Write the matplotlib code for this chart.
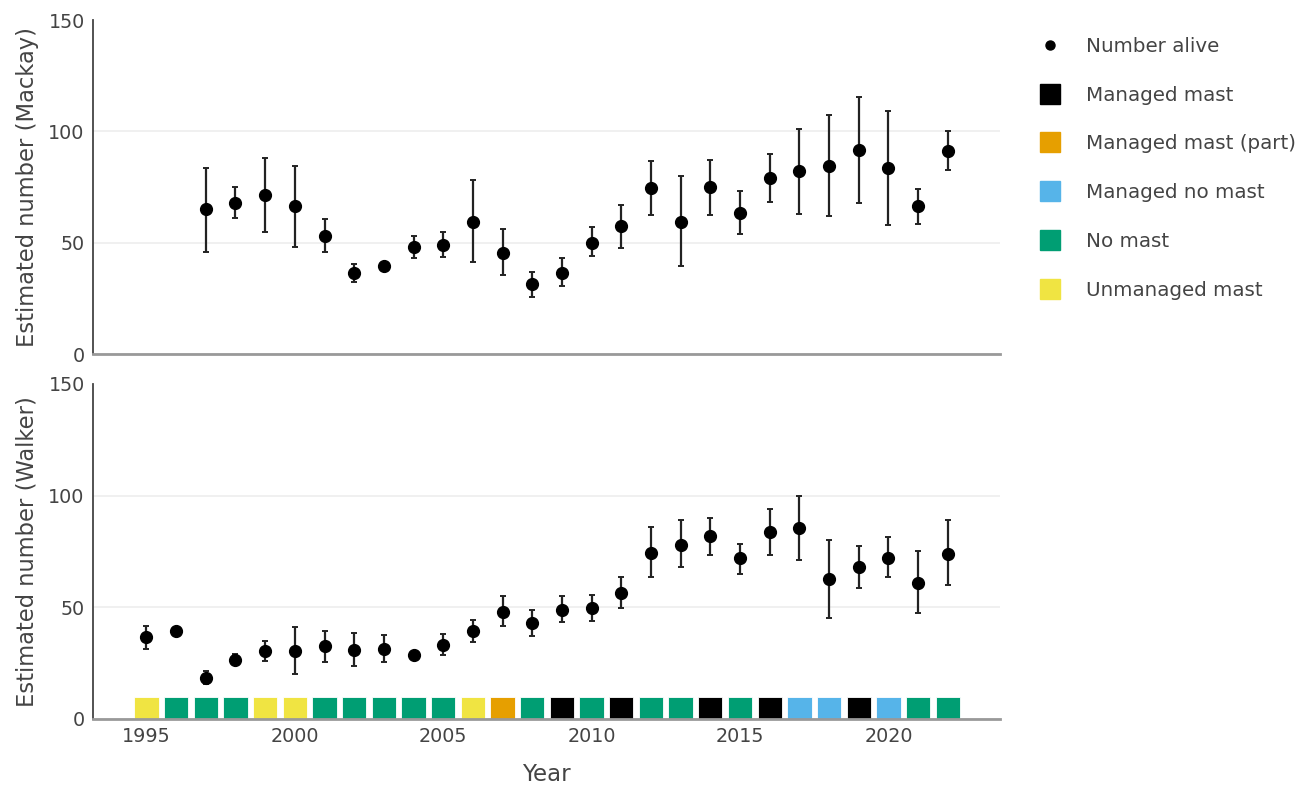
"""Estimated number alive per year at two sites, with mast category strip."""

import matplotlib

matplotlib.use("Agg")
import matplotlib.pyplot as plt
from matplotlib.lines import Line2D

plt.rcParams["font.family"] = ["DejaVu Sans"]

TEXT = "#444444"
GRID = "#eeeeee"

MAST_COLORS = {
    "Managed mast": "#000000",
    "Managed mast (part)": "#E69F00",
    "Managed no mast": "#56B4E9",
    "No mast": "#009E73",
    "Unmanaged mast": "#F0E442",
}

# Mackay (top panel)
mackay_years = list(range(1997, 2023))
mackay_est = [65, 68, 71.5, 66.5, 53, 36.5, 39.5, 48, 49, 59.5, 45.5, 31.5,
              36.5, 50, 57.5, 74.5, 59.5, 75, 63.5, 79, 82, 84.5, 91.5, 83.5, 66.5, 91]
mackay_lo = [46, 61, 55, 48, 46, 32.5, 39.5, 43, 43.5, 41.5, 35.5, 25.5,
             30.5, 44, 47.5, 62.5, 39.5, 62.5, 54, 68.5, 63, 62, 68, 58, 58.5, 82.5]
mackay_hi = [83.5, 75, 88, 84.5, 60.5, 40.5, 39.5, 53, 55, 78, 56, 37,
             43, 57, 67, 86.5, 80, 87, 73, 90, 101, 107.5, 115.5, 109, 74, 100]

# Walker (bottom panel)
walker_years = list(range(1995, 2023))
walker_est = [36.5, 39.5, 18.5, 26.5, 30.5, 30.5, 32.5, 31, 31.5, 28.5, 33, 39.5,
              48, 43, 49, 49.5, 56.5, 74.5, 78, 82, 72, 83.5, 85.5, 62.5, 68, 72, 61, 74]
walker_lo = [31.5, 39.5, 15.5, 24.5, 26, 20, 25.5, 23.5, 25.5, 27, 28.5, 34.5,
             41.5, 37, 43.5, 44, 49.5, 63.5, 68, 73.5, 65, 73.5, 71, 45, 58.5, 63.5, 47.5, 60]
walker_hi = [41.5, 39.5, 21.5, 29, 35, 41, 39.5, 38.5, 37.5, 30, 38, 44.5,
             55, 49, 55, 55.5, 63.5, 86, 89, 90, 78.5, 94, 100, 80, 77.5, 81.5, 75, 89]

mast_years = list(range(1995, 2023))
mast_category = [
    "Unmanaged mast", "No mast", "No mast", "No mast", "Unmanaged mast",
    "Unmanaged mast", "No mast", "No mast", "No mast", "No mast", "No mast",
    "Unmanaged mast", "Managed mast (part)", "No mast", "Managed mast", "No mast",
    "Managed mast", "No mast", "No mast", "Managed mast", "No mast", "Managed mast",
    "Managed no mast", "Managed no mast", "Managed mast", "Managed no mast",
    "No mast", "No mast",
]
MAST_HEIGHT = 10

fig = plt.figure(figsize=(13.14, 7.85), dpi=100)
ax_top = fig.add_axes([0.0708, 0.549, 0.690, 0.4255])
ax_bot = fig.add_axes([0.0708, 0.0841, 0.690, 0.4268])


def style(ax, ylabel):
    ax.set_xlim(1993.2, 2023.75)
    ax.set_ylim(0, 150)
    ax.set_yticks([0, 50, 100, 150])
    ax.set_xticks([1995, 2000, 2005, 2010, 2015, 2020])
    ax.grid(axis="y", color=GRID, linewidth=1.2)
    ax.get_ygridlines()[-1].set_visible(False)
    ax.set_axisbelow(True)
    for side in ("top", "right"):
        ax.spines[side].set_visible(False)
    ax.spines["left"].set_color(TEXT)
    ax.spines["left"].set_linewidth(1.3)
    ax.spines["bottom"].set_color("#999999")
    ax.spines["bottom"].set_linewidth(2)
    ax.tick_params(length=0, labelsize=13.8, colors=TEXT, pad=6)
    ax.set_ylabel(ylabel, fontsize=16.3, color=TEXT, labelpad=7)


def draw_points(ax, years, est, lo, hi):
    yerr = [[e - l for e, l in zip(est, lo)], [h - e for e, h in zip(est, hi)]]
    ax.errorbar(years, est, yerr=yerr, fmt="o", color="black", ecolor="#222222",
                elinewidth=1.6, capsize=2, capthick=1.4, markersize=8.5, zorder=3)


style(ax_top, "Estimated number (Mackay)")
draw_points(ax_top, mackay_years, mackay_est, mackay_lo, mackay_hi)
ax_top.tick_params(labelbottom=False)

style(ax_bot, "Estimated number (Walker)")
draw_points(ax_bot, walker_years, walker_est, walker_lo, walker_hi)
ax_bot.bar(mast_years, [MAST_HEIGHT] * len(mast_years), width=0.82,
           color=[MAST_COLORS[c] for c in mast_category],
           edgecolor="#ffffff", linewidth=0.6, zorder=2)
ax_bot.set_xlabel("Year", fontsize=16.5, color=TEXT, labelpad=12)

handles = [Line2D([], [], marker="o", color="black", linestyle="", markersize=6.5)]
labels = ["Number alive"]
for name, col in MAST_COLORS.items():
    handles.append(Line2D([], [], marker="s", color=col, linestyle="", markersize=15,
                          markeredgecolor=col))
    labels.append(name)
fig.legend(handles, labels, loc="upper left", bbox_to_anchor=(0.7734, 0.976),
           frameon=False, fontsize=14.3, labelcolor=TEXT, labelspacing=1.5,
           handletextpad=1.01, handlelength=1.6)

fig.savefig("out.png", dpi=100)
